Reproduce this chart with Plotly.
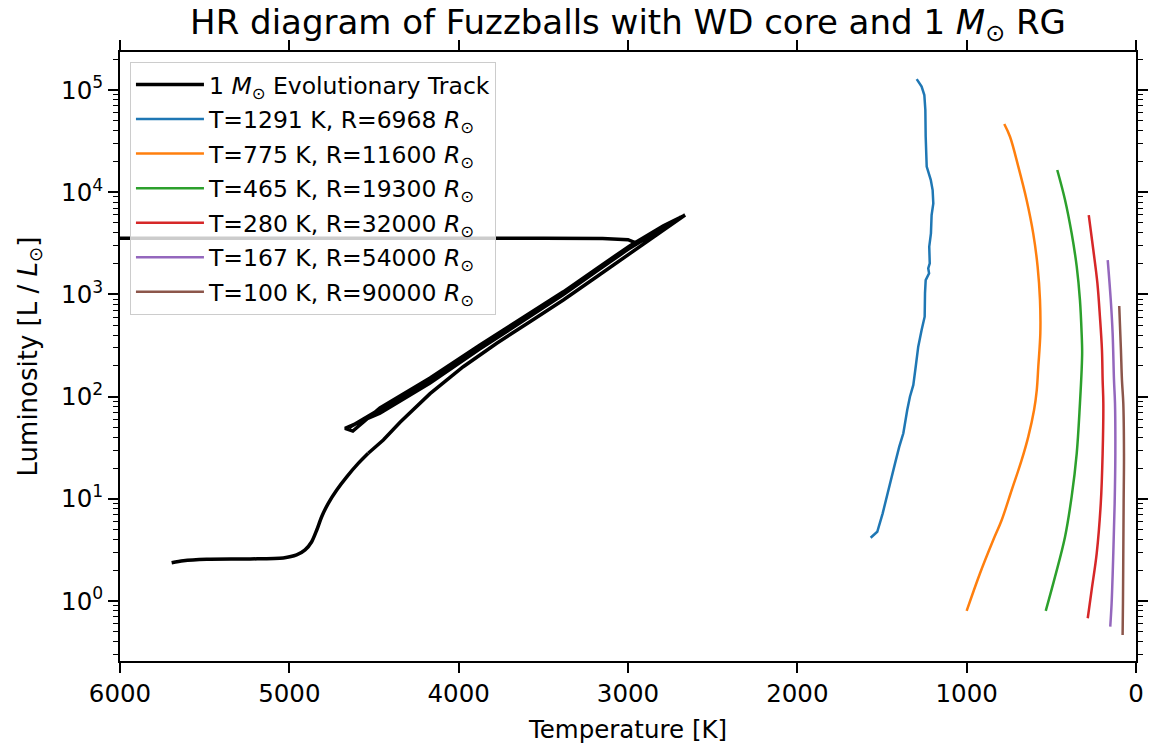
import plotly.graph_objects as go

# ---------------- data ----------------
# smooth lower part of the 1 Msun track (subgiant -> base of the RGB)
base_T = [5695, 5626, 5488, 5232, 5036, 4957, 4907, 4868, 4838, 4809, 4770, 4720, 4661, 4593, 4534]
base_L = [2.37, 2.48, 2.56, 2.58, 2.64, 2.82, 3.16, 3.80, 4.95, 6.68, 9.04, 12.2, 16.4, 22.2, 27.9]

# RGB up to the tip, then the clump / AGB loops and the post-AGB departure
track_T = [4534, 4445, 4346, 4169, 3973, 3775, 3579, 3382, 3185, 2988, 2791, 2663,
           2700, 2791, 2988, 3185, 3382, 3579, 3874, 4169, 4465, 4671,
           4625,
           4465, 4169, 3874, 3579, 3382, 3185, 2988, 2791, 2690,
           2791, 2988, 3185, 3382, 3579, 3874, 4169, 4465, 4645,
           4465, 4169, 3874, 3579, 3382, 3185, 2988, 2947,
           3000, 3150, 3500, 9000]
track_L = [27.9, 37.6, 56.2, 107, 196, 333, 541, 881, 1490, 2520, 4270, 5980,
           5560, 4520, 2850, 1690, 995, 610, 293, 136, 69.0, 49.0,
           46.0,
           77.5, 152, 320, 650, 1060, 1790, 3000, 4700, 5690,
           4570, 2900, 1720, 1010, 619, 306, 147, 75.0, 50.1,
           73.0, 143, 303, 620, 1020, 1720, 2900, 3160,
           3430, 3520, 3540, 3540]

blue_T = [1295, 1266, 1250, 1244, 1242, 1236, 1212, 1201, 1197, 1207, 1211, 1221, 1218, 1227, 1222,
          1242, 1246, 1248, 1266, 1286, 1301, 1315, 1335, 1351, 1374, 1398, 1423, 1447, 1472, 1496,
          1528, 1567]
blue_L = [1.28e5, 1.08e5, 8.93e4, 6.37e4, 3.49e4, 1.78e4, 1.32e4, 1.05e4, 7780, 5980, 3960, 2930,
          2010, 1800, 1610, 1380, 1030, 605, 449, 308, 196, 130, 99.8, 74, 43.8, 32.4, 22.2, 15.3,
          10.5, 7.21, 4.76, 4.16]

orange_T = [778, 744, 695, 646, 607, 581, 567, 565, 577, 586, 602, 636, 675, 734, 793, 843, 921, 1000]
orange_L = [4.65e4, 3.49e4, 1.78e4, 8400, 3960, 1870, 881, 416, 196, 116, 74, 40.6, 24.0, 12.2,
            6.21, 3.95, 1.87, 0.80]

green_T = [465, 419, 380, 350, 331, 321, 318, 321, 331, 350, 380, 419, 478, 533]
green_L = [1.65e4, 8400, 3960, 1870, 881, 416, 275, 182, 85.9, 27.9, 10.5, 4.26, 1.73, 0.80]

red_T = [279, 252, 228, 213, 201, 197, 193, 197, 208, 232, 262, 285]
red_L = [5980, 2720, 1290, 605, 286, 145, 85.9, 27.9, 9.04, 2.93, 1.28, 0.678]

purple_T = [167, 149, 138, 130, 124, 122, 126, 134, 144, 152]
purple_L = [2170, 881, 416, 145, 85.9, 27.9, 9.04, 2.93, 0.95, 0.561]

brown_T = [99, 89, 83, 75, 71, 73, 75, 77, 79]
brown_L = [769, 286, 145, 85.9, 27.9, 9.04, 2.93, 0.95, 0.465]

series_names = [
    "T=1291 K, R=6968 <i>R</i><sub>⊙</sub>",
    "T=775 K, R=11600 <i>R</i><sub>⊙</sub>",
    "T=465 K, R=19300 <i>R</i><sub>⊙</sub>",
    "T=280 K, R=32000 <i>R</i><sub>⊙</sub>",
    "T=167 K, R=54000 <i>R</i><sub>⊙</sub>",
    "T=100 K, R=90000 <i>R</i><sub>⊙</sub>",
]
series_colors = ["#1f77b4", "#ff7f0e", "#2ca02c", "#d62728", "#9467bd", "#8c564b"]

x_ticks = [6000, 5000, 4000, 3000, 2000, 1000, 0]
y_ticks = [1, 10, 100, 1000, 10000, 100000]
y_ticktext = ["10<sup>0</sup>", "10<sup>1</sup>", "10<sup>2</sup>", "10<sup>3</sup>",
              "10<sup>4</sup>", "10<sup>5</sup>"]

# ---------------- figure ----------------
FONT = "DejaVu Sans"
TICK = 24.5
fig = go.Figure()

fig.add_trace(go.Scatter(x=base_T, y=base_L, mode="lines",
                         line=dict(color="black", width=3.5, shape="spline", smoothing=0.8),
                         legendgroup="g0", showlegend=False, hoverinfo="skip"))
fig.add_trace(go.Scatter(x=track_T, y=track_L, mode="lines",
                         line=dict(color="black", width=3.5),
                         legendgroup="g0",
                         name="1 <i>M</i><sub>⊙</sub> Evolutionary Track"))

series = [(blue_T, blue_L), (orange_T, orange_L), (green_T, green_L),
          (red_T, red_L), (purple_T, purple_L), (brown_T, brown_L)]
for i, (tx, ly) in enumerate(series):
    fig.add_trace(go.Scatter(x=tx, y=ly, mode="lines",
                             line=dict(color=series_colors[i], width=2.5,
                                       shape="linear" if i == 0 else "spline"),
                             legendgroup="g%d" % (i + 1),
                             name=series_names[i]))

fig.update_layout(
    width=1149, height=746,
    margin=dict(l=120, r=13, t=52, b=85),
    paper_bgcolor="white", plot_bgcolor="white",
    font=dict(family=FONT, size=TICK, color="black"),
    title=dict(text="HR diagram of Fuzzballs with WD core and 1 <i>M</i><sub>⊙</sub> RG",
               x=0.5, xref="paper", xanchor="center",
               y=1 - 22 / 746, yref="container", yanchor="middle",
               font=dict(family=FONT, size=34, color="black")),
    legend=dict(x=0.0098, y=0.984, xanchor="left", yanchor="top",
                bgcolor="rgba(255,255,255,0.8)", bordercolor="#cccccc", borderwidth=1,
                font=dict(family=FONT, size=23.5, color="black"),
                itemwidth=68, tracegroupgap=1, traceorder="grouped"),
    showlegend=True,
)

fig.update_xaxes(
    range=[6000, 0], tickmode="array", tickvals=x_ticks, automargin=False,
    ticks="outside", ticklen=10, tickwidth=1.5, tickcolor="black",
    showline=True, linecolor="black", linewidth=1.8, mirror="allticks",
    showgrid=False, zeroline=False,
    tickfont=dict(family=FONT, size=TICK, color="black"),
    title=dict(text="Temperature [K]", font=dict(family=FONT, size=TICK, color="black"), standoff=14),
)
fig.update_yaxes(
    type="log", range=[-0.587, 5.372], tickmode="array", tickvals=y_ticks, ticktext=y_ticktext,
    automargin=False,
    ticks="outside", ticklen=10, tickwidth=1.5, tickcolor="black",
    minor=dict(ticks="outside", ticklen=5, tickwidth=1, tickcolor="black", dtick="D1", showgrid=False),
    showline=True, linecolor="black", linewidth=1.8, mirror="allticks",
    showgrid=False, zeroline=False,
    tickfont=dict(family=FONT, size=TICK, color="black"),
    title=dict(text="Luminosity [L / <i>L</i><sub>⊙</sub>]", font=dict(family=FONT, size=26, color="black"), standoff=16),
)

fig.write_html("out.html")
